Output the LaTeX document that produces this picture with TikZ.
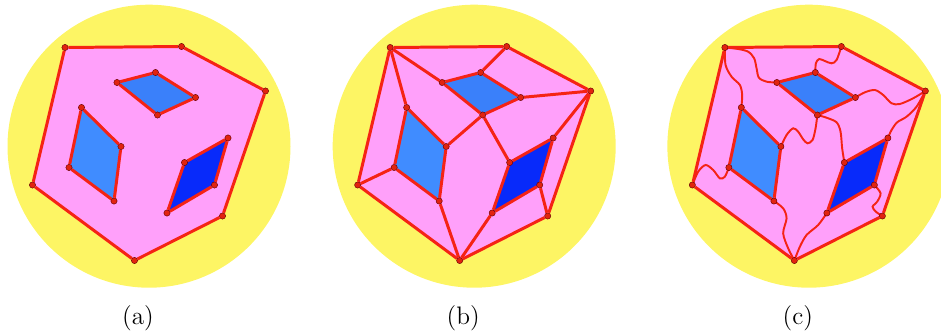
\documentclass[tikz,border=0pt]{standalone}
\usepackage{tikz}
\usetikzlibrary{backgrounds}
\definecolor{discyellow}{RGB}{253, 245, 100}
\definecolor{facepink}{RGB}{255, 160, 250}
\definecolor{topblue}{RGB}{58, 128, 250}
\definecolor{leftblue}{RGB}{64, 140, 255}
\definecolor{rightblue}{RGB}{8, 42, 250}
\definecolor{edgered}{RGB}{245, 35, 20}
\definecolor{dotred}{RGB}{225, 35, 15}

% one panel: disc, outer face, three holes, vertices, boundary edges
\newcommand{\basepanel}[1]{
    \foreach \name/\x/\y in {o1/65/47.5, o2/181.5/46.5, o3/265.5/91, o4/222.5/216, o5/134.5/260.5, o6/32.5/185,
        t1/117/82.5, t2/155.5/72.5, t3/195.5/97.5, t4/157.5/115,
        l1/81.5/107.5, l2/121/146.5, l3/114/201, l4/69/167.5,
        r1/228/138, r2/214.5/185, r3/167/213, r4/184.5/162.5}
        \node[vertex] (#1-\name) at (\x,\y) {};
    \begin{scope}[on background layer]
        \fill[discyellow] (149,146.2) circle [radius=141.5];
        \fill[facepink] (#1-o1.center) -- (#1-o2.center) -- (#1-o3.center) -- (#1-o4.center) -- (#1-o5.center) -- (#1-o6.center) -- cycle;
        \fill[topblue] (#1-t1.center) -- (#1-t2.center) -- (#1-t3.center) -- (#1-t4.center) -- cycle;
        \fill[leftblue] (#1-l1.center) -- (#1-l2.center) -- (#1-l3.center) -- (#1-l4.center) -- cycle;
        \fill[rightblue] (#1-r1.center) -- (#1-r2.center) -- (#1-r3.center) -- (#1-r4.center) -- cycle;
    \end{scope}
    \foreach \from/\to in {o1/o2, o2/o3, o3/o4, o4/o5, o5/o6, o6/o1,
        t1/t2, t2/t3, t3/t4, t4/t1, l1/l2, l2/l3, l3/l4, l4/l1, r1/r2, r2/r3, r3/r4, r4/r1}
        \draw[edge] (#1-\from) -- (#1-\to);
    \node[paneltag] (#1-label) at (138,318.5) {(#1)};
}

\begin{document}
\begin{tikzpicture}[
    x=0.02cm, y=-0.02cm,
    vertex/.style={circle, draw=black!60!red, line width=0.25pt, fill=dotred, inner sep=0pt, minimum size=0.125cm},
    edge/.style={edgered, line width=1.7pt},
    wavy/.style={edgered, line width=1.1pt, line cap=round},
    paneltag/.style={font=\fontsize{14.4pt}{17pt}\selectfont, inner sep=0pt}
]
    \useasboundingbox (0,0) rectangle (941,335);
    \clip (0,0) rectangle (941,335);

    % --- PANEL A ---
    \begin{scope}
        \basepanel{a}
    \end{scope}

    % --- PANEL B ---
    \begin{scope}[xshift=6.505cm]
        \basepanel{b}
        \foreach \from/\to in {o1/t1, o1/l1, o2/t2, t3/o3, t4/r4, o3/r1, t4/l2, o6/l4, l3/o5, r3/o5, r2/o4}
            \draw[edge] (b-\from) -- (b-\to);
    \end{scope}

    % --- PANEL C ---
    \begin{scope}[xshift=13.2cm]
        \basepanel{c}
        \begin{scope}[on background layer]
            \draw[wavy] plot[smooth] coordinates {(c-o1) (78.3,49) (88.3,51.7) (94.3,58.3) (96.7,68.3) (99,77.7) (106.7,81.7) (c-t1)};
            \draw[wavy] plot[smooth] coordinates {(c-o1) (65.7,65) (71.7,76.7) (80,85) (82.3,95) (c-l1)};
            \draw[wavy] plot[smooth] coordinates {(c-o2) (176.7,60) (171.7,63.3) (165,61) (159.3,59) (156,63.3) (c-t2)};
            \draw[wavy] plot[smooth] coordinates {(c-t3) (205,92.3) (215,90) (223.3,95) (231.7,103.3) (240,104) (253.3,98.3) (c-o3)};
            \draw[wavy] plot[smooth] coordinates {(c-t4) (166.7,117.7) (176.7,122.3) (180.7,131.7) (182.3,148.3) (c-r4)};
            \draw[wavy] plot[smooth] coordinates {(c-o3) (256.7,106.7) (246.7,116.7) (237.3,122.3) (231.7,130) (c-r1)};
            \draw[wavy] plot[smooth] coordinates {(c-t4) (155.7,128.3) (152.7,140) (147.7,143.3) (143.3,139.3) (138.3,131.7) (133.3,128.3) (126.7,135) (c-l2)};
            \draw[wavy] plot[smooth] coordinates {(c-o6) (38.3,171.7) (45.7,165) (53.3,170) (60,178.3) (65,176.7) (c-l4)};
            \draw[wavy] plot[smooth] coordinates {(c-l3) (123.3,208.3) (126.7,218.3) (123.3,233.3) (128.3,248.3) (c-o5)};
            \draw[wavy] plot[smooth] coordinates {(c-r3) (158.3,225) (146.7,235) (140,246.7) (c-o5)};
            \draw[wavy] plot[smooth] coordinates {(c-r2) (220.7,193.3) (217.3,201.7) (212.7,206.7) (216,211.7) (c-o4)};
        \end{scope}
    \end{scope}
\end{tikzpicture}
\end{document}
